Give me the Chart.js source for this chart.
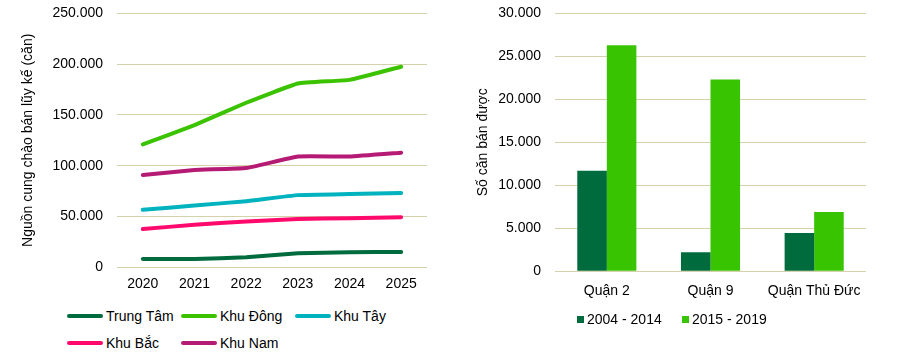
<!DOCTYPE html>
<html lang="vi">
<head>
<meta charset="UTF-8">
<title>Nguồn cung và số căn bán được</title>
<script src="https://cdn.jsdelivr.net/npm/chart.js@4.4.1/dist/chart.umd.min.js"></script>
<style>
  body { margin: 0; background: #fff; font-family: "Liberation Sans", Arial, sans-serif; }
  #wrap { position: relative; width: 904px; height: 359px; overflow: hidden; }
  #left { position: absolute; left: 0; top: -9px; width: 450px; height: 311px; }
  #right { position: absolute; left: 450px; top: -9px; width: 454px; height: 321px; }
  .legend { position: absolute; font-size: 14px; color: #000; }
  #legendLeft {
    left: 67px; top: 306px;
    display: grid; grid-template-columns: 114px 114px 114px; row-gap: 7px;
  }
  #legendRight { left: 577px; top: 309px; display: flex; }
  .item { display: flex; align-items: center; height: 20px; }
  .item span.ln { display: inline-block; width: 36px; height: 4px; border-radius: 2px; margin-right: 3px; }
  .item span.sq { display: inline-block; width: 7px; height: 7px; margin-right: 3px; }
  #legendRight .item { width: 105px; }
</style>
</head>
<body>
<div id="wrap">
  <div id="left"><canvas id="lineChart"></canvas></div>
  <div id="legendLeft" class="legend"></div>
  <div id="right"><canvas id="barChart"></canvas></div>
  <div id="legendRight" class="legend"></div>
</div>
<script>
  // left chart: cumulative supply by area
  const years = ['2020', '2021', '2022', '2023', '2024', '2025'];
  const areaNames = ['Trung Tâm', 'Khu Đông', 'Khu Tây', 'Khu Bắc', 'Khu Nam'];
  const areaColors = ['#006B3C', '#3CC300', '#00B3BE', '#FF0A6C', '#B51A74'];
  const trungTam = [8200, 8200, 9800, 13700, 14700, 15000];
  const khuDong  = [121000, 140000, 162000, 181000, 184500, 197500];
  const khuTay   = [56500, 60800, 65000, 71000, 72000, 73000];
  const khuBac   = [37600, 41800, 45000, 47500, 48300, 49300];
  const khuNam   = [90800, 95800, 97700, 109000, 109000, 112800];
  const areaValues = [trungTam, khuDong, khuTay, khuBac, khuNam];

  // right chart: units sold by district
  const districts = ['Quận 2', 'Quận 9', 'Quận Thủ Đức'];
  const periodNames = ['2004 - 2014', '2015 - 2019'];
  const periodColors = ['#006B3C', '#38C400'];
  const sold0414 = [11700, 2200, 4450];
  const sold1519 = [26300, 22300, 6900];

  const gridColor = '#D5D1AA';
  Chart.defaults.font.family = '"Liberation Sans", Arial, sans-serif';
  Chart.defaults.font.size = 14;
  Chart.defaults.color = '#000';

  function dotted(v) {
    return String(v).replace(/\B(?=(\d{3})+(?!\d))/g, '.');
  }

  new Chart(document.getElementById('lineChart'), {
    type: 'line',
    data: {
      labels: years,
      datasets: areaNames.map((n, i) => ({
        label: n,
        data: areaValues[i],
        borderColor: areaColors[i],
        backgroundColor: areaColors[i],
        borderWidth: 4,
        borderCapStyle: 'round',
        pointRadius: 0,
        tension: 0.1
      }))
    },
    options: {
      responsive: true,
      maintainAspectRatio: false,
      animation: false,
      layout: { padding: { top: 5, right: 23, bottom: 0, left: 0 } },
      plugins: { legend: { display: false }, tooltip: { enabled: false } },
      scales: {
        x: {
          offset: true,
          grid: { display: false, drawTicks: false },
          border: { display: false },
          ticks: { padding: 9 }
        },
        y: {
          min: 0, max: 250000,
          afterFit: s => { s.width = 117; },
          grid: { color: gridColor, drawTicks: false },
          border: { display: false },
          ticks: { stepSize: 50000, padding: 14, callback: v => dotted(v) },
          title: {
            display: true,
            text: 'Nguồn cung chào bán lũy kế (căn)',
            padding: { top: 20, bottom: 0 }
          }
        }
      }
    }
  });

  new Chart(document.getElementById('barChart'), {
    type: 'bar',
    data: {
      labels: districts,
      datasets: [
        { label: periodNames[0], data: sold0414, backgroundColor: periodColors[0] },
        { label: periodNames[1], data: sold1519, backgroundColor: periodColors[1] }
      ]
    },
    options: {
      responsive: true,
      maintainAspectRatio: false,
      animation: false,
      layout: { padding: { top: 5, right: 38, bottom: 0, left: 0 } },
      datasets: { bar: { categoryPercentage: 0.57, barPercentage: 1 } },
      plugins: { legend: { display: false }, tooltip: { enabled: false } },
      scales: {
        x: {
          grid: { display: false, drawTicks: false },
          border: { display: false },
          ticks: { padding: 12 }
        },
        y: {
          min: 0, max: 30000,
          afterFit: s => { s.width = 105; },
          grid: { color: gridColor, drawTicks: false },
          border: { display: false },
          ticks: { stepSize: 5000, padding: 14, callback: v => dotted(v) },
          title: {
            display: true,
            text: 'Số căn bán được',
            padding: { top: 25, bottom: 0 }
          }
        }
      }
    }
  });

  // html legends, laid out like the original
  const lgL = document.getElementById('legendLeft');
  areaNames.forEach((n, i) => {
    const d = document.createElement('div');
    d.className = 'item';
    d.innerHTML = '<span class="ln" style="background:' + areaColors[i] + '"></span>' + n;
    lgL.appendChild(d);
  });
  const lgR = document.getElementById('legendRight');
  periodNames.forEach((n, i) => {
    const d = document.createElement('div');
    d.className = 'item';
    d.innerHTML = '<span class="sq" style="background:' + periodColors[i] + '"></span>' + n;
    lgR.appendChild(d);
  });
</script>
</body>
</html>
